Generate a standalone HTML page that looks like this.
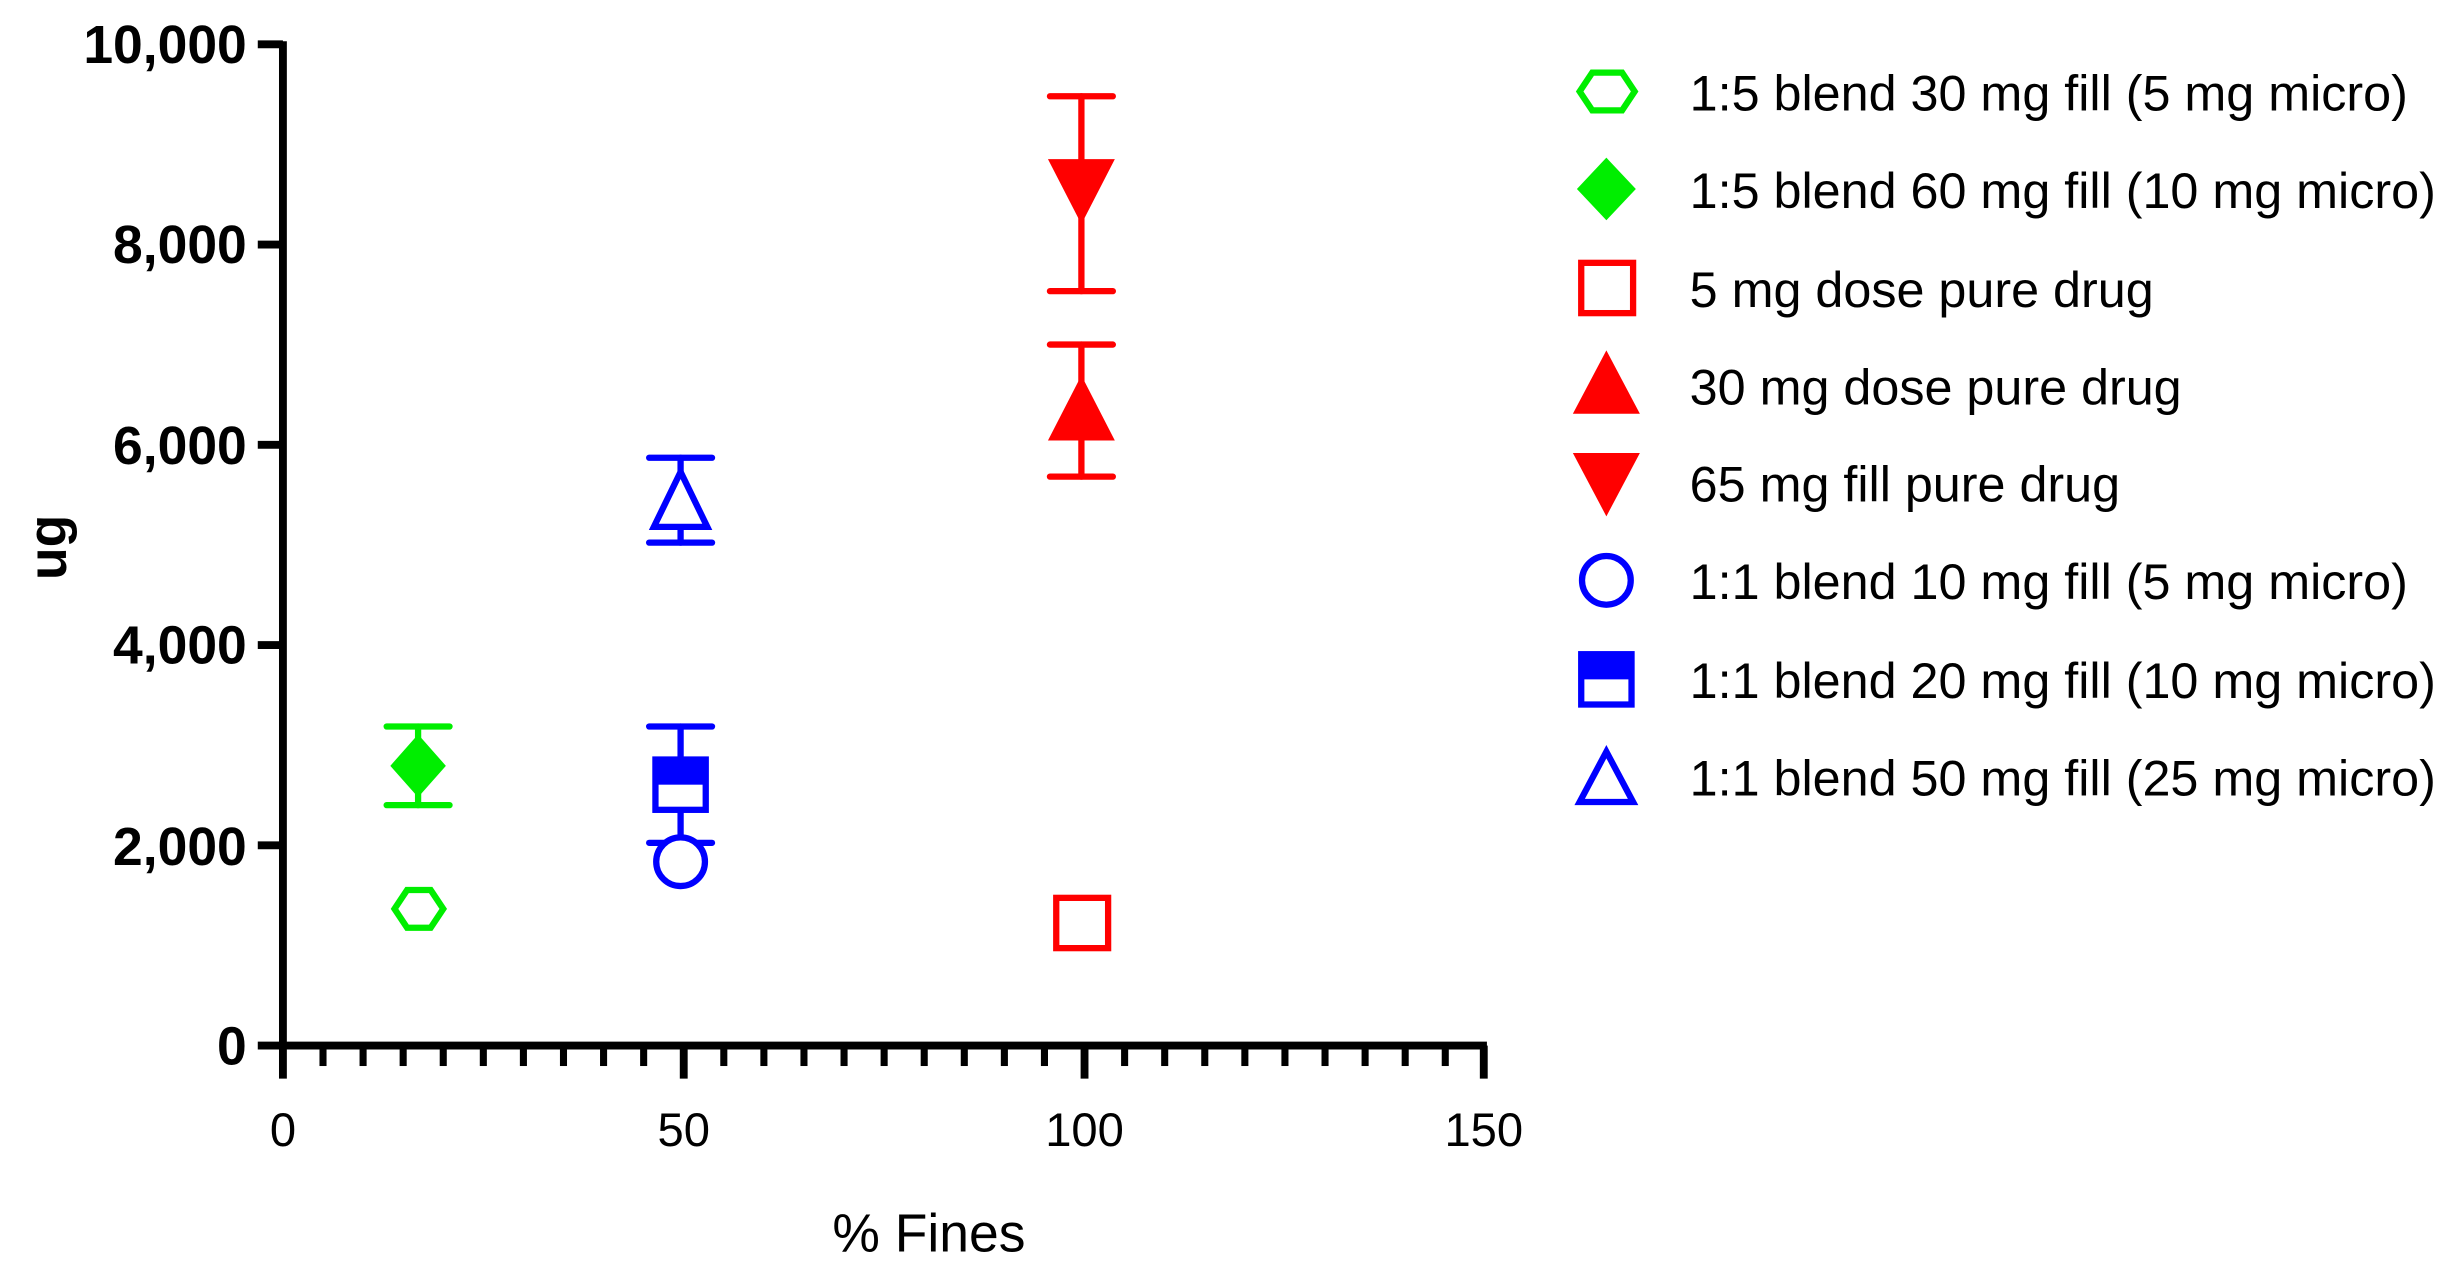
<!DOCTYPE html>
<html><head><meta charset="utf-8"><style>html,body{margin:0;padding:0;background:#fff}svg{display:block}</style></head>
<body>
<svg width="2452" height="1266" viewBox="0 0 1560 805" xmlns="http://www.w3.org/2000/svg" font-family="Liberation Sans, sans-serif">
<rect width="1560" height="805" fill="#fff"/>
<g stroke="#000" stroke-width="5" fill="none">
<line x1="180" y1="26" x2="180" y2="667"/>
<line x1="178" y1="665" x2="946" y2="665"/>
<line x1="164" y1="28" x2="180" y2="28"/>
<line x1="164" y1="155.4" x2="180" y2="155.4"/>
<line x1="164" y1="282.8" x2="180" y2="282.8"/>
<line x1="164" y1="410.2" x2="180" y2="410.2"/>
<line x1="164" y1="537.6" x2="180" y2="537.6"/>
<line x1="164" y1="665" x2="180" y2="665"/>
<line x1="180" y1="665" x2="180" y2="686"/>
<line x1="435" y1="665" x2="435" y2="686"/>
<line x1="690" y1="665" x2="690" y2="686"/>
<line x1="944" y1="665" x2="944" y2="686"/>
</g>
<g stroke="#000" stroke-width="4.5">
<line x1="205.5" y1="665" x2="205.5" y2="678"/><line x1="231" y1="665" x2="231" y2="678"/><line x1="256.5" y1="665" x2="256.5" y2="678"/><line x1="282" y1="665" x2="282" y2="678"/><line x1="307.5" y1="665" x2="307.5" y2="678"/><line x1="333" y1="665" x2="333" y2="678"/><line x1="358.5" y1="665" x2="358.5" y2="678"/><line x1="384" y1="665" x2="384" y2="678"/><line x1="409.5" y1="665" x2="409.5" y2="678"/>
<line x1="460.5" y1="665" x2="460.5" y2="678"/><line x1="486" y1="665" x2="486" y2="678"/><line x1="511.5" y1="665" x2="511.5" y2="678"/><line x1="537" y1="665" x2="537" y2="678"/><line x1="562.5" y1="665" x2="562.5" y2="678"/><line x1="588" y1="665" x2="588" y2="678"/><line x1="613.5" y1="665" x2="613.5" y2="678"/><line x1="639" y1="665" x2="639" y2="678"/><line x1="664.5" y1="665" x2="664.5" y2="678"/>
<line x1="715.5" y1="665" x2="715.5" y2="678"/><line x1="741" y1="665" x2="741" y2="678"/><line x1="766.5" y1="665" x2="766.5" y2="678"/><line x1="792" y1="665" x2="792" y2="678"/><line x1="817.5" y1="665" x2="817.5" y2="678"/><line x1="843" y1="665" x2="843" y2="678"/><line x1="868.5" y1="665" x2="868.5" y2="678"/><line x1="894" y1="665" x2="894" y2="678"/><line x1="919.5" y1="665" x2="919.5" y2="678"/>
</g>
<g font-size="34" font-weight="bold" text-anchor="end" fill="#000">
<text x="157" y="40">10,000</text>
<text x="157" y="167">8,000</text>
<text x="157" y="295">6,000</text>
<text x="157" y="422">4,000</text>
<text x="157" y="550">2,000</text>
<text x="157" y="677">0</text>
</g>
<g font-size="30" text-anchor="middle" fill="#000">
<text x="180" y="729">0</text>
<text x="435" y="729">50</text>
<text x="690" y="729">100</text>
<text x="944" y="729">150</text>
<text x="591" y="796" font-size="34">% Fines</text>
</g>
<text x="0" y="0" transform="translate(42,348) rotate(-90)" font-size="34" font-weight="bold" text-anchor="middle">ug</text>
<g stroke-width="4" stroke-linecap="round" fill="none">
<g stroke="#00ee00"><line x1="266" y1="462" x2="266" y2="512"/><line x1="246" y1="462" x2="286" y2="462"/><line x1="246" y1="512" x2="286" y2="512"/></g>
<g stroke="#ff0000"><line x1="688" y1="219" x2="688" y2="303"/><line x1="668" y1="219" x2="708" y2="219"/><line x1="668" y1="303" x2="708" y2="303"/>
<line x1="688" y1="61" x2="688" y2="185"/><line x1="668" y1="61" x2="708" y2="61"/><line x1="668" y1="185" x2="708" y2="185"/></g>
<g stroke="#0000ff"><line x1="433" y1="291" x2="433" y2="345"/><line x1="413" y1="291" x2="453" y2="291"/><line x1="413" y1="345" x2="453" y2="345"/>
<line x1="433" y1="462" x2="433" y2="536"/><line x1="413" y1="462" x2="453" y2="462"/><line x1="413" y1="536" x2="453" y2="536"/></g>
</g>
<g stroke-width="4">
<polygon points="251,578 259,566 274,566 282,578 274,590 259,590" fill="#fff" stroke="#00ee00"/>
<polygon points="266,470 281,487 266,504 251,487" fill="#00ee00" stroke="#00ee00"/>
<rect x="672" y="571" width="33" height="32" fill="#fff" stroke="#ff0000"/>
<polygon points="688,243 706,278 670,278" fill="#ff0000" stroke="#ff0000"/>
<polygon points="670,103 706,103 688,138" fill="#ff0000" stroke="#ff0000"/>
<circle cx="433" cy="548" r="15.5" fill="#fff" stroke="#0000ff"/>
<rect x="417" y="483" width="32" height="32" fill="#fff" stroke="#0000ff"/>
<rect x="417" y="483" width="32" height="16" fill="#0000ff"/>
<polygon points="433,300 450,335 416,335" fill="#fff" stroke="#0000ff"/>
</g>
<g stroke-width="4">
<polygon points="1005,58 1013,46 1032,46 1040,58 1032,70 1013,70" fill="#fff" stroke="#00ee00"/>
<polygon points="1022,103 1038,120 1022,137 1006,120" fill="#00ee00" stroke="#00ee00"/>
<rect x="1006" y="167" width="33" height="32" fill="#fff" stroke="#ff0000"/>
<polygon points="1022,227 1040,261 1004,261" fill="#ff0000" stroke="#ff0000"/>
<polygon points="1004,290 1040,290 1022,324" fill="#ff0000" stroke="#ff0000"/>
<circle cx="1022" cy="369" r="15.5" fill="#fff" stroke="#0000ff"/>
<rect x="1006" y="416" width="32" height="32" fill="#fff" stroke="#0000ff"/>
<rect x="1006" y="416" width="32" height="16" fill="#0000ff"/>
<polygon points="1022,478 1039,510 1005,510" fill="#fff" stroke="#0000ff"/>
</g>
<g font-size="32" fill="#000">
<text x="1075" y="70">1:5 blend 30 mg fill (5 mg micro)</text>
<text x="1075" y="132">1:5 blend 60 mg fill (10 mg micro)</text>
<text x="1075" y="195">5 mg dose pure drug</text>
<text x="1075" y="257">30 mg dose pure drug</text>
<text x="1075" y="319">65 mg fill pure drug</text>
<text x="1075" y="381">1:1 blend 10 mg fill (5 mg micro)</text>
<text x="1075" y="444">1:1 blend 20 mg fill (10 mg micro)</text>
<text x="1075" y="506">1:1 blend 50 mg fill (25 mg micro)</text>
</g>
</svg>
</body></html>
